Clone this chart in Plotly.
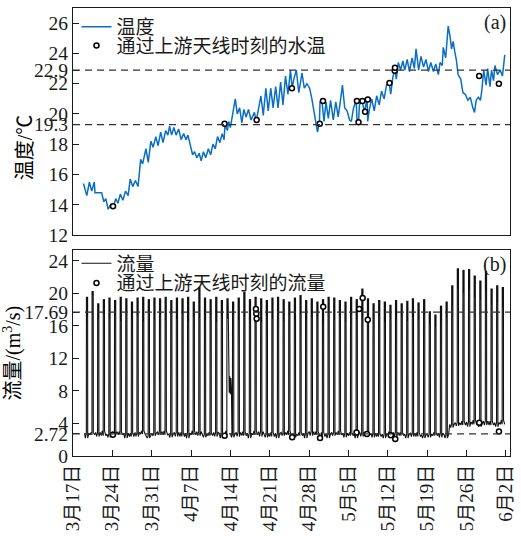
import pandas as pd
import plotly.graph_objects as go
from plotly.subplots import make_subplots

# ---------------- data ----------------
start = pd.Timestamp("2019-03-17")

# water temperature (days since 17 March, degC)
temp_day = [1.86, 2.46, 2.91, 3.33, 3.79, 3.91, 5.09, 5.49, 5.84, 6.25, 6.67, 7.12, 7.60, 8.00,
            8.42, 8.88, 9.35, 9.82, 10.18, 10.63, 11.11, 11.58, 12.04, 12.39, 12.98, 13.39,
            13.86, 14.26, 14.74, 15.14, 15.61, 16.02, 16.49, 16.89, 17.19, 17.54, 17.95, 18.35,
            18.82, 19.23, 19.70, 20.11, 20.46, 20.88, 21.28, 21.63, 22.04, 22.46, 22.81, 23.21,
            23.61, 24.09, 24.49, 24.91, 25.32, 25.72, 26.14, 26.54, 26.89, 27.05, 27.47, 27.72,
            28.00, 28.47, 28.88, 29.23, 29.65, 30.05, 30.40, 30.81, 31.23, 31.68, 32.28, 32.60,
            32.86, 33.44, 33.86, 34.32, 34.74, 35.19, 35.61, 36.07, 36.49, 36.95, 37.37, 37.82,
            38.25, 38.70, 39.00, 39.30, 39.75, 40.18, 40.75, 41.16, 41.63, 42.11, 42.51, 42.91,
            43.26, 43.51, 43.86, 43.96, 44.26, 44.67, 45.02, 45.44, 45.84, 46.32, 46.77, 47.19,
            47.60, 47.95, 48.35, 48.77, 49.23, 49.53, 49.93, 50.40, 50.53, 50.81, 50.98, 51.46,
            51.86, 52.33, 52.45, 52.74, 53.16, 53.61, 54.04, 54.49, 54.91, 55.37, 55.79, 56.25,
            56.54, 56.95, 57.30, 57.54, 57.89, 58.30, 58.70, 59.05, 59.47, 59.88, 60.35, 60.75,
            61.05, 61.51, 61.93, 62.39, 62.81, 63.26, 63.68, 64.14, 64.56, 65.02, 65.32, 65.72,
            65.89, 66.32, 66.77, 67.07, 67.37, 67.65, 67.95, 68.25, 68.53, 69.00, 69.40, 69.82,
            70.28, 70.70, 71.16, 71.46, 71.75, 72.16, 72.51, 72.74, 73.09, 73.51, 73.79, 74.21,
            74.49, 74.84, 75.09, 75.54, 76.02, 76.42, 76.84]
temp_val = [15.4, 14.6, 15.5, 14.9, 15.5, 14.8, 14.8, 14.2, 14.4, 13.7, 14.0, 13.8, 14.4, 14.1,
            14.7, 14.3, 14.9, 14.6, 15.7, 15.2, 15.6, 15.2, 17.0, 16.7, 17.7, 16.8,
            18.2, 17.8, 18.5, 17.9, 18.8, 18.1, 18.9, 18.6, 19.2, 18.6, 19.1, 18.6,
            19.0, 18.3, 18.7, 18.3, 18.6, 17.9, 17.3, 17.5, 17.1, 17.4, 16.9, 17.5,
            17.1, 17.7, 17.3, 18.0, 17.7, 18.5, 18.1, 18.7, 18.3, 19.3, 18.9, 19.5,
            19.1, 20.1, 21.0, 20.0, 20.4, 19.4, 20.3, 19.8, 20.3, 19.6, 20.1, 19.5,
            20.0, 21.2, 19.9, 21.7, 20.2, 21.7, 20.4, 21.8, 20.4, 22.1, 20.6, 22.5,
            21.3, 22.9, 21.7, 22.3, 22.9, 21.4, 22.7, 21.7, 22.0, 21.7, 21.0, 20.1,
            19.3, 18.8, 19.5, 20.8, 21.0, 19.5, 20.8, 19.7, 20.9, 19.6, 20.8, 19.8,
            20.9, 21.9, 20.4, 20.2, 19.6, 19.5, 20.4, 20.9, 19.7, 19.5, 20.6, 20.9,
            20.1, 21.0, 19.5, 20.3, 21.0, 20.2, 21.2, 20.6, 21.5, 21.0, 21.9, 22.1,
            21.3, 22.5, 22.9, 22.3, 23.4, 22.9, 23.5, 22.9, 23.6, 22.8, 23.7, 23.0,
            24.3, 22.9, 23.8, 23.1, 23.6, 22.8, 23.4, 22.8, 23.3, 22.6, 23.4, 23.2,
            24.4, 23.7, 25.8, 25.2, 24.3, 24.8, 24.1, 23.5, 22.6, 22.3, 21.4, 21.3,
            20.9, 21.1, 20.4, 20.1, 20.9, 21.1, 20.9, 21.5, 22.9, 21.9, 23.0, 21.8,
            22.9, 22.2, 23.2, 22.6, 22.9, 22.5, 23.9]

# water temperature when fish passed the upstream antenna
pass_temp_day = [7.12, 26.98, 32.68, 38.96, 43.91, 44.49, 50.53, 50.81, 51.51, 51.98,
                 52.46, 56.32, 57.25, 57.30, 72.28, 75.79]
pass_temp_val = [13.9, 19.35, 19.6, 21.7, 19.35, 20.85, 20.85, 19.45, 20.85, 20.15,
                 20.95, 22.05, 22.85, 23.05, 22.5, 22.0]

# daily discharge pattern (m3/s), one entry per day from 19 March to 1 June
flow_first_day = 2
flow_peak = [19.6, 20.3, 18.8, 19.3, 19.5, 19.2, 19.6, 19.4, 19.0, 19.5, 19.6, 19.3, 19.5, 19.4,
             19.6, 19.2, 19.5, 19.4, 19.6, 19.0, 20.8, 19.5, 19.3, 19.6, 19.2, 19.4, 19.0, 19.5,
             20.2, 19.3, 19.6, 19.4, 19.2, 19.5, 19.6, 19.3, 19.0, 19.5, 19.8, 19.2, 19.4, 19.0,
             19.3, 19.6, 19.5, 19.2, 19.0, 19.6, 19.3, 20.6, 19.4, 18.8, 19.2, 19.0, 18.6, 19.2,
             18.8, 19.1, 19.4, 18.9, 19.3, 17.8, 17.4, 18.5, 19.0, 21.0, 23.1, 22.9, 23.0, 22.2,
             21.6, 22.8, 20.6, 21.0, 20.8]
flow_mid = [17.2, 19.8, 16.8, 17.5, 16.9, 17.4, 16.6, 17.8, 16.9, 17.2, 16.5, 17.6, 16.8, 17.3,
            16.7, 17.5, 16.9, 17.4, 16.6, 17.2, 17.0, 16.8, 17.4, 16.5, 17.3, 16.9, 17.5, 16.7,
            17.1, 16.8, 17.6, 16.5, 17.2, 16.9, 17.4, 16.6, 17.3, 16.8, 17.5, 16.7, 17.1, 16.9,
            16.4, 17.5, 16.8, 17.2, 16.6, 17.4, 16.9, 17.0, 16.7, 16.9, 17.3, 16.5, 17.0, 16.8,
            17.2, 16.6, 17.1, 16.7, 17.3, 16.2, 15.9, 16.8, 17.0, 18.4, 20.6, 20.1, 20.5, 19.6,
            19.2, 20.3, 18.6, 18.9, 18.4]
flow_low = [2.8, 2.6, 2.9, 2.5, 2.7, 3.0, 2.6, 2.8, 2.4, 2.9, 2.7, 2.5, 2.8, 3.0,
            2.6, 2.7, 2.9, 2.4, 2.8, 2.6, 3.0, 2.7, 2.5, 2.9, 2.8, 2.6, 2.7, 2.9,
            2.5, 2.8, 2.6, 3.0, 2.7, 2.4, 2.8, 2.9, 2.6, 2.7, 2.5, 2.8, 3.0, 2.6,
            2.4, 2.7, 2.9, 2.6, 2.8, 2.5, 2.7, 2.9, 2.6, 2.8, 2.4, 2.7, 2.6, 2.9,
            2.5, 2.7, 2.8, 2.4, 2.6, 2.7, 2.5, 2.8, 2.6, 3.9, 4.1, 3.8, 4.2, 3.9,
            4.0, 4.3, 3.8, 4.1, 3.9]
flow_low_b = [2.2, 2.9, 2.4, 3.1, 2.3, 2.6, 3.0, 2.2, 2.8, 2.4, 3.1, 2.2, 2.5, 2.6,
              3.1, 2.3, 2.4, 2.9, 2.2, 3.1, 2.5, 2.3, 2.9, 2.4, 2.2, 3.1, 2.3, 2.4,
              3.0, 2.2, 3.1, 2.4, 2.3, 2.9, 2.2, 2.5, 3.1, 2.3, 2.9, 2.2, 2.5, 3.0,
              2.9, 2.2, 2.5, 3.1, 2.3, 2.9, 2.2, 2.4, 3.0, 2.3, 2.8, 2.2, 3.0, 2.4,
              2.9, 2.2, 2.4, 2.9, 2.2, 2.3, 2.9, 2.3, 2.2, 3.5, 3.7, 4.3, 3.6, 4.4,
              3.6, 3.8, 4.3, 3.6, 4.4]
# hours of the day for the low / rising / peaking / falling stages
stage_hours = [1.0, 5.0, 9.0, 9.4, 12.0, 14.4, 14.8, 20.0]

# partial release on 14 April (flow held at an intermediate level)
hold_day = [27.72, 27.80, 27.90, 28.00, 28.10, 28.20, 28.28]
hold_val = [10.0, 7.8, 9.8, 7.6, 9.6, 8.1, 2.7]

# discharge when fish passed the upstream antenna
pass_flow_day = [7.10, 26.98, 32.55, 32.62, 32.68, 39.00, 43.96, 44.53, 50.46, 50.93,
                 51.55, 52.30, 52.46, 56.55, 57.35, 72.30, 75.80]
pass_flow_val = [2.6, 2.5, 18.1, 17.5, 16.9, 2.3, 2.2, 18.35, 2.9, 18.1,
                 19.45, 2.7, 16.75, 2.55, 2.1, 4.1, 3.0]

temp_refs = [22.9, 19.3]
flow_refs = [17.69, 2.72]

tick_dates = ["2019-03-17", "2019-03-24", "2019-03-31", "2019-04-07", "2019-04-14", "2019-04-21",
              "2019-04-28", "2019-05-05", "2019-05-12", "2019-05-19", "2019-05-26", "2019-06-02"]
tick_text = ["3月17日", "3月24日", "3月31日", "4月7日", "4月14日", "4月21日",
             "4月28日", "5月5日", "5月12日", "5月19日", "5月26日", "6月2日"]

temp_ticks = [12, 14, 16, 18, 19.3, 20, 22, 22.9, 24, 26]
flow_ticks = [0, 2.72, 4, 8, 12, 16, 17.69, 20, 24]


def to_time(days):
    return [start + pd.Timedelta(days=d) for d in days]


# build the discharge series day by day
flow_t, flow_v = [], []
for i, (pk, md, lo, lb) in enumerate(zip(flow_peak, flow_mid, flow_low, flow_low_b)):
    d = flow_first_day + i
    vals = [lo, lb, lo, pk, md, pk, lb, lo]
    for h, v in zip(stage_hours, vals):
        flow_t.append(d + h / 24)
        flow_v.append(v)
    if d == 27:
        # the last two low readings of this day are replaced by the hold period
        flow_t = flow_t[:-2]
        flow_v = flow_v[:-2]
        flow_t.extend(hold_day)
        flow_v.extend(hold_val)

# ---------------- figure ----------------
SERIF = "Liberation Serif, Times New Roman, Noto Sans CJK SC, serif"
INK = "#1a1a1a"
fig = make_subplots(rows=2, cols=1, shared_xaxes=False, vertical_spacing=0.0)

fig.add_trace(go.Scatter(x=to_time(temp_day), y=temp_val, mode="lines", name="温度",
                         line=dict(color="#0a6fc2", width=1.5), legend="legend"), row=1, col=1)
fig.add_trace(go.Scatter(x=to_time(pass_temp_day), y=pass_temp_val, mode="markers",
                         name="通过上游天线时刻的水温",
                         marker=dict(symbol="circle", size=5, color="white",
                                     line=dict(color="black", width=1.5)),
                         legend="legend3"), row=1, col=1)

fig.add_trace(go.Scatter(x=to_time(flow_t), y=flow_v, mode="lines", name="流量",
                         line=dict(color="#111111", width=1.1), legend="legend2"), row=2, col=1)
fig.add_trace(go.Scatter(x=to_time(pass_flow_day), y=pass_flow_val, mode="markers",
                         name="通过上游天线时刻的流量",
                         marker=dict(symbol="circle", size=5, color="white",
                                     line=dict(color="black", width=1.5)),
                         legend="legend4"), row=2, col=1)

# reference levels
for v in temp_refs:
    fig.add_shape(type="line", xref="x domain", yref="y", x0=0, x1=1, y0=v, y1=v,
                  line=dict(color="#333333", width=1.2, dash="7px,5px"))
for v in flow_refs:
    fig.add_shape(type="line", xref="x2 domain", yref="y2", x0=0, x1=1, y0=v, y1=v,
                  line=dict(color="#333333", width=1.2, dash="7px,5px"))

x_range = [start, start + pd.Timedelta(days=77.77)]
tick_font = dict(family=SERIF, size=19.5, color=INK)
title_font = dict(family=SERIF, size=20, color="black")

fig.update_xaxes(range=x_range, showline=True, mirror=True, linecolor=INK, linewidth=1.2,
                 showgrid=False, zeroline=False)
fig.update_xaxes(showticklabels=False, ticks="", row=1, col=1)
fig.update_xaxes(tickvals=tick_dates, ticktext=tick_text, ticks="inside", ticklen=6,
                 tickcolor=INK, tickangle=-90, ticklabeloverflow="allow",
                 tickfont=dict(family=SERIF, size=19, color=INK), row=2, col=1)

fig.update_yaxes(showline=True, mirror=True, linecolor=INK, linewidth=1.2, showgrid=False,
                 zeroline=False, ticks="inside", ticklen=6, tickcolor=INK, tickfont=tick_font)
fig.update_yaxes(range=[12, 27], tickvals=temp_ticks, ticktext=[str(t) for t in temp_ticks],
                 row=1, col=1)
fig.update_yaxes(range=[0, 25.3], tickvals=flow_ticks, ticktext=[str(t) for t in flow_ticks],
                 title=dict(text="流量/(m<sup>3</sup>/s)", font=title_font, standoff=2),
                 row=2, col=1)

legend_font = dict(family=SERIF, size=19, color=INK)


def legend_at(y):
    return dict(x=0.008, y=y, xanchor="left", yanchor="middle", bgcolor="rgba(0,0,0,0)",
                font=legend_font, itemwidth=30, tracegroupgap=0)


fig.update_layout(
    width=521, height=536,
    margin=dict(l=73, r=5, t=8, b=77),
    paper_bgcolor="white", plot_bgcolor="white",
    showlegend=True,
    xaxis=dict(domain=[0, 1]), yaxis=dict(domain=[0.4933, 1.0]),
    xaxis2=dict(domain=[0, 1]), yaxis2=dict(domain=[0.0, 0.459]),
    legend=legend_at(0.958),
    legend3=legend_at(0.916),
    legend2=legend_at(0.430),
    legend4=legend_at(0.386),
    annotations=[
        # temperature axis title, set a little below the middle of the panel
        dict(text="温度/℃", xref="paper", yref="paper", x=-0.109, y=0.69, xanchor="center",
             yanchor="middle", textangle=-90, showarrow=False, font=title_font),
        dict(text="(a)", xref="x domain", yref="y domain", x=0.995, y=0.995, xanchor="right",
             yanchor="top", showarrow=False, font=dict(family=SERIF, size=20, color=INK)),
        dict(text="(b)", xref="x2 domain", yref="y2 domain", x=0.995, y=0.995, xanchor="right",
             yanchor="top", showarrow=False, font=dict(family=SERIF, size=20, color=INK)),
    ],
)

fig.write_html("out.html")
